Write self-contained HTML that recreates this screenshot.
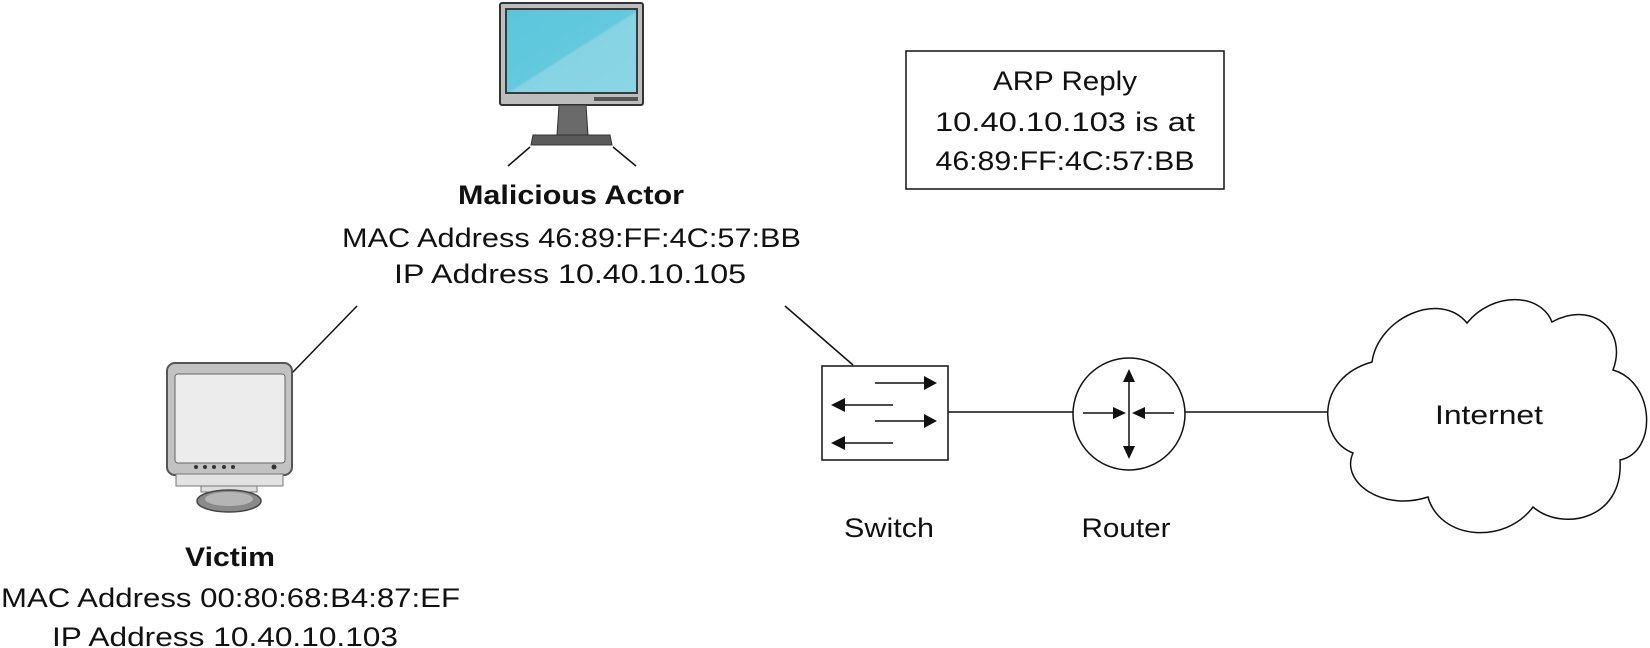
<!DOCTYPE html>
<html><head><meta charset="utf-8"><style>html,body{margin:0;padding:0;background:#fff}svg{display:block}</style></head>
<body>
<svg width="1650" height="648" viewBox="0 0 1650 648" xmlns="http://www.w3.org/2000/svg" font-family="Liberation Sans, sans-serif" fill="#111">
<defs>
<linearGradient id="scr" x1="0" y1="0" x2="1" y2="1"><stop offset="0" stop-color="#5cc6dc"/><stop offset="0.5" stop-color="#62c9de"/><stop offset="0.52" stop-color="#86d3e3"/><stop offset="1" stop-color="#8ad6e6"/></linearGradient>
</defs>
<!-- top monitor -->
<rect x="500" y="3" width="143" height="102" rx="2" fill="#bdbdbd" stroke="#333" stroke-width="2"/>
<rect x="505" y="8" width="133" height="86" fill="#3a3a3a"/>
<rect x="507" y="10" width="129" height="82" fill="url(#scr)"/>
<rect x="594" y="97" width="44" height="4" fill="#555"/>
<path d="M559 105 L586 105 L588 135 L557 135 Z" fill="#6a6a6a" stroke="#333"/>
<path d="M533 135 L610 135 L612 145 L531 145 Z" fill="#5a5a5a" stroke="#333"/>
<line x1="530" y1="147" x2="508" y2="166" stroke="#111" stroke-width="1.5"/>
<line x1="613" y1="147" x2="636" y2="166" stroke="#111" stroke-width="1.5"/>
<!-- malicious actor text -->
<text x="571" y="204" font-size="27" font-weight="bold" text-anchor="middle" textLength="226" lengthAdjust="spacingAndGlyphs">Malicious Actor</text>
<text x="342" y="247" font-size="27" textLength="459" lengthAdjust="spacingAndGlyphs">MAC Address 46:89:FF:4C:57:BB</text>
<text x="394" y="283" font-size="27" textLength="352" lengthAdjust="spacingAndGlyphs">IP Address 10.40.10.105</text>
<!-- connectors -->
<line x1="357" y1="306" x2="292" y2="373" stroke="#111" stroke-width="1.5"/>
<line x1="785" y1="306" x2="853" y2="365" stroke="#111" stroke-width="1.5"/>
<!-- victim monitor -->
<rect x="167" y="363" width="125" height="112" rx="8" fill="#c2c2c2" stroke="#555" stroke-width="2"/>
<rect x="175" y="374" width="110" height="89" rx="3" fill="#ececec" stroke="#666"/>
<g fill="#333"><circle cx="196" cy="467" r="2"/><circle cx="205" cy="467" r="2"/><circle cx="214" cy="467" r="2"/><circle cx="224" cy="467" r="2"/><circle cx="233" cy="467" r="2"/><circle cx="274" cy="467" r="2.5"/></g>
<rect x="176" y="474" width="107" height="12" fill="#e2e2e2" stroke="#777"/>
<rect x="201" y="486" width="56" height="6" fill="#ddd" stroke="#777"/>
<ellipse cx="229" cy="501" rx="32" ry="11" fill="#8a8a8a" stroke="#444" stroke-width="1.5"/>
<ellipse cx="229" cy="499" rx="24" ry="7" fill="#b5b5b5"/>
<!-- victim text -->
<text x="230" y="566" font-size="27" font-weight="bold" text-anchor="middle" textLength="90" lengthAdjust="spacingAndGlyphs">Victim</text>
<text x="1" y="607" font-size="27" textLength="459" lengthAdjust="spacingAndGlyphs">MAC Address 00:80:68:B4:87:EF</text>
<text x="52" y="646" font-size="27" textLength="346" lengthAdjust="spacingAndGlyphs">IP Address 10.40.10.103</text>
<!-- ARP box -->
<rect x="906" y="51" width="318" height="138" fill="#fff" stroke="#111" stroke-width="1.5"/>
<text x="1065" y="90" font-size="27" text-anchor="middle" textLength="144" lengthAdjust="spacingAndGlyphs">ARP Reply</text>
<text x="1065" y="131" font-size="27" text-anchor="middle" textLength="260" lengthAdjust="spacingAndGlyphs">10.40.10.103 is at</text>
<text x="1065" y="170" font-size="27" text-anchor="middle" textLength="259" lengthAdjust="spacingAndGlyphs">46:89:FF:4C:57:BB</text>
<!-- switch -->
<rect x="822" y="366" width="126" height="94" fill="#fff" stroke="#111" stroke-width="1.5"/>
<g stroke="#111" stroke-width="1.5">
<line x1="875" y1="383" x2="926" y2="383"/><line x1="875" y1="421" x2="926" y2="421"/>
<line x1="843" y1="405" x2="893" y2="405"/><line x1="843" y1="443" x2="893" y2="443"/>
</g>
<g fill="#111">
<polygon points="937,383 924,376 924,390"/><polygon points="937,421 924,414 924,428"/>
<polygon points="831,405 845,398 845,412"/><polygon points="831,443 845,436 845,450"/>
</g>
<line x1="948" y1="412" x2="1073" y2="412" stroke="#111" stroke-width="1.5"/>
<!-- router -->
<circle cx="1129" cy="414" r="56" fill="#fff" stroke="#111" stroke-width="1.5"/>
<g stroke="#111" stroke-width="1.5">
<line x1="1129" y1="380" x2="1129" y2="448"/>
<line x1="1083" y1="413" x2="1115" y2="413"/><line x1="1143" y1="413" x2="1174" y2="413"/>
</g>
<g fill="#111">
<polygon points="1129,369 1123,382 1135,382"/><polygon points="1129,459 1123,446 1135,446"/>
<polygon points="1126,413 1113,407 1113,419"/><polygon points="1132,413 1145,407 1145,419"/>
</g>
<line x1="1185" y1="412" x2="1329" y2="412" stroke="#111" stroke-width="1.5"/>
<text x="889" y="537" font-size="27" text-anchor="middle" textLength="90" lengthAdjust="spacingAndGlyphs">Switch</text>
<text x="1126" y="537" font-size="27" text-anchor="middle" textLength="89" lengthAdjust="spacingAndGlyphs">Router</text>
<!-- cloud -->
<path d="M1372,362 C1378,318 1440,290 1467,323 C1492,292 1540,292 1552,322 C1592,300 1628,330 1613,370 C1655,382 1658,452 1620,460 C1624,520 1562,532 1533,507 C1505,545 1440,540 1428,497 C1382,512 1340,482 1353,453 C1318,440 1315,378 1372,362 Z" fill="#fff" stroke="#111" stroke-width="1.5"/>
<text x="1489" y="424" font-size="27" text-anchor="middle" textLength="108" lengthAdjust="spacingAndGlyphs">Internet</text>
</svg>
</body></html>
